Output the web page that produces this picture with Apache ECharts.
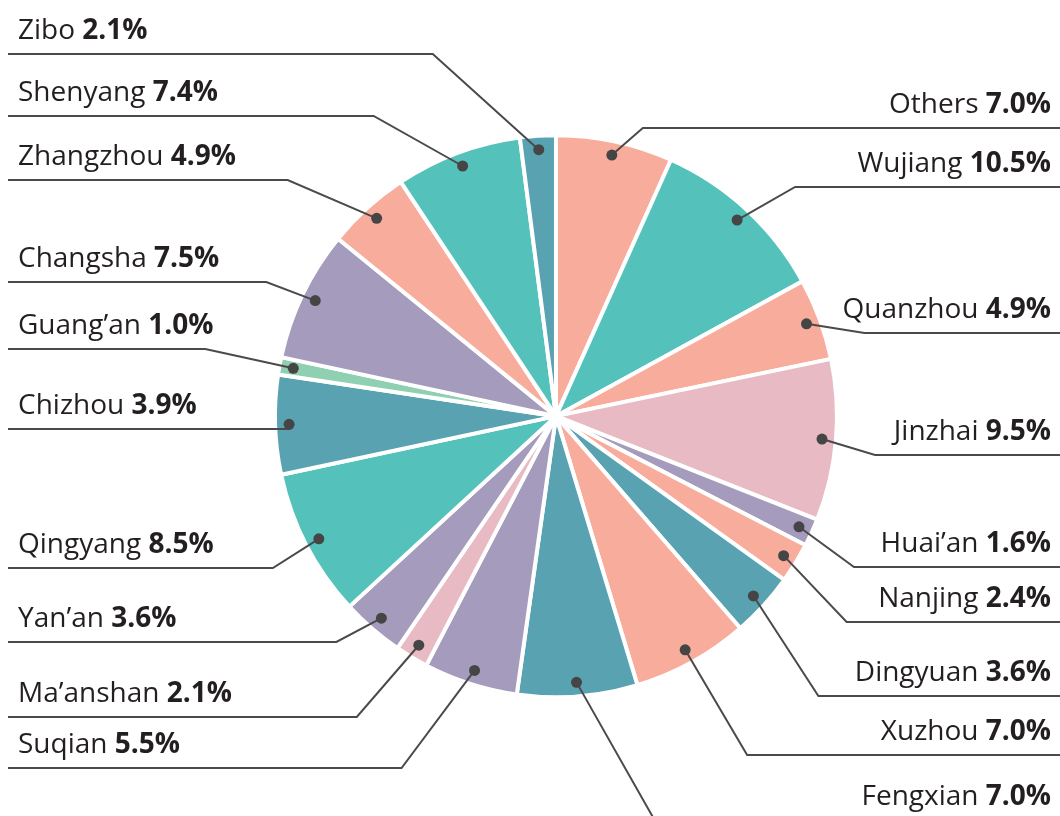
<!DOCTYPE html>
<html>
<head>
<meta charset="utf-8">
<script src="https://cdn.jsdelivr.net/npm/echarts@6/dist/echarts.min.js"></script>
<style>
html,body{margin:0;padding:0;background:#ffffff;}
#c{width:1060px;height:816px;}
</style>
</head>
<body>
<div id="c"></div>
<script>
// ---- data (clockwise from 12 o'clock) ----
const names = ['Others','Wujiang','Quanzhou','Jinzhai','Huai\u2019an','Nanjing','Dingyuan','Xuzhou','Fengxian',
  'Suqian','Ma\u2019anshan','Yan\u2019an','Qingyang','Chizhou','Guang\u2019an','Changsha','Zhangzhou','Shenyang','Zibo'];
// slice sizes as drawn
const shares = [6.7,10.3,4.7,9.25,1.6,2.3,3.7,6.7,6.9,5.4,1.9,3.6,8.5,5.7,1.0,7.5,4.8,7.25,2.05];
// percentages printed in the labels
const labelPct = [7.0,10.5,4.9,9.5,1.6,2.4,3.6,7.0,7.0,5.5,2.1,3.6,8.5,3.9,1.0,7.5,4.9,7.4,2.1];

// ---- styling / annotation layout ----
const SALMON = '#F8AC9C', TEAL = '#54C2BB', LAV = '#A59CBD', PINK = '#E8BAC4', DTEAL = '#58A2B2', MINT = '#8FD0B2';
const sliceColors = [SALMON,TEAL,SALMON,PINK,LAV,SALMON,DTEAL,SALMON,DTEAL,
  LAV,PINK,LAV,TEAL,DTEAL,MINT,LAV,SALMON,TEAL,DTEAL];
const leaderY = [128,187,333,455,567,622,696,755,820, 768,717,642,568,429,349,282,180,116,54];
const elbowDx = [31,58,58,53,55,63,65,62,78, -73,-62,-45,-46,0,-88,-49,-89,-89,-106];

const total = shares.reduce((a, b) => a + b, 0);
const mids = [];
let acc = 0;
shares.forEach(v => { mids.push(acc + v / 2); acc += v; });

const CENTER = ['52.45%', '51%'];
const R = 279;
const FONT = "'Open Sans', 'Noto Sans', sans-serif";

const chart = echarts.init(document.getElementById('c'), null, {renderer: 'canvas'});
chart.setOption({
  animation: false,
  backgroundColor: '#ffffff',
  polar: {center: CENTER, radius: R},
  angleAxis: {type: 'value', min: 0, max: total, startAngle: 90, clockwise: true, show: false},
  radiusAxis: {type: 'value', min: 0, max: 1, show: false},
  series: [
    {
      type: 'pie',
      center: CENTER,
      radius: [0, R + 2],
      startAngle: 90,
      clockwise: true,
      avoidLabelOverlap: false,
      silent: true,
      label: {show: false},
      labelLine: {show: false},
      itemStyle: {borderColor: '#ffffff', borderWidth: 4},
      data: names.map((n, i) => ({name: n, value: shares[i], itemStyle: {color: sliceColors[i]}}))
    },
    {
      type: 'custom',
      coordinateSystem: 'polar',
      z: 5,
      silent: true,
      data: mids.map(m => [0.957, m]),
      renderItem: function (params, api) {
        const i = params.dataIndex;
        const p = api.coord([api.value(0), api.value(1)]);
        const c = api.coord([0, api.value(1)]);
        const W = api.getWidth();
        const right = p[0] >= c[0];
        const y = leaderY[i];
        const elbow = [p[0] + elbowDx[i], y];
        const end = [right ? W : 8, y];
        return {
          type: 'group',
          children: [
            {type: 'polyline', shape: {points: [p, elbow, end]},
             style: {stroke: '#4a4a4a', lineWidth: 2, fill: null}, z2: 1},
            {type: 'circle', shape: {cx: p[0], cy: p[1], r: 5.5},
             style: {fill: '#454545'}, z2: 2},
            {type: 'text', z2: 3,
             style: {
               x: right ? W - 9 : 18,
               y: y - 23,
               text: '{n|' + names[i] + '} {p|' + labelPct[i].toFixed(1) + '%}',
               align: right ? 'right' : 'left',
               verticalAlign: 'middle',
               fontSize: 28,
               fontFamily: FONT,
               fill: '#231F20',
               rich: {
                 n: {fontSize: 28, fontFamily: FONT, fontWeight: 'normal', fill: '#231F20'},
                 p: {fontSize: 28, fontFamily: FONT, fontWeight: 'bold', fill: '#231F20'}
               }
             }}
          ]
        };
      }
    }
  ]
});
</script>
</body>
</html>
